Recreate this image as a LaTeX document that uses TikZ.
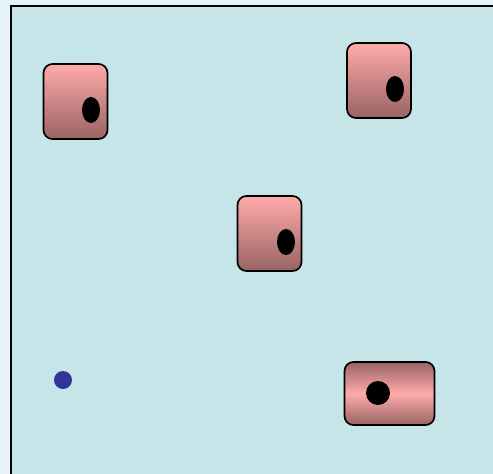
\documentclass[tikz,border=0pt]{standalone}
\usetikzlibrary{shapes.geometric}
\definecolor{pagebg}{HTML}{E4F3FA}
\definecolor{pool}{HTML}{C5E5E8}
\definecolor{pinktop}{HTML}{FFAAAA}
\definecolor{pinkbot}{HTML}{996363}
\definecolor{dotblue}{HTML}{333399}
\tikzset{
  cell/.style={draw=black, line width=1.7pt, rounded corners=9pt, top color=pinktop, bottom color=pinkbot, minimum width=#1},
  vcell/.style={cell=64pt, minimum height=75pt},
  hcell/.style={draw=black, line width=1.7pt, rounded corners=9pt, top color=pinkbot, bottom color=pinkbot, middle color=pinktop, minimum width=90pt, minimum height=63pt},
  eye/.style={ellipse, fill=black, minimum width=18pt, minimum height=26pt, inner sep=0pt},
  roundeye/.style={circle, fill=black, minimum size=24pt, inner sep=0pt},
  agent/.style={circle, fill=dotblue, minimum size=18pt, inner sep=0pt}
}
\begin{document}
\begin{tikzpicture}[x=1pt,y=-1pt]
\useasboundingbox (0,0) rectangle (493,474);
\clip (0,0) rectangle (493,474);
\fill[pagebg] (0,0) rectangle (493,474);
\draw[fill=pool, line width=1.6pt] (11,6) rectangle (520,500);
\node[vcell] (c1) at (75.5,101.5) {};
\node[vcell] (c2) at (379,80.5) {};
\node[vcell] (c3) at (269.5,233.5) {};
\node[hcell] (c4) at (389.5,393.5) {};
\node[eye] (e1) at (91,110) {};
\node[eye] (e2) at (395,89) {};
\node[eye] (e3) at (286,242) {};
\node[roundeye] (e4) at (378,393) {};
\node[agent] (a) at (63,380) {};
\end{tikzpicture}
\end{document}
